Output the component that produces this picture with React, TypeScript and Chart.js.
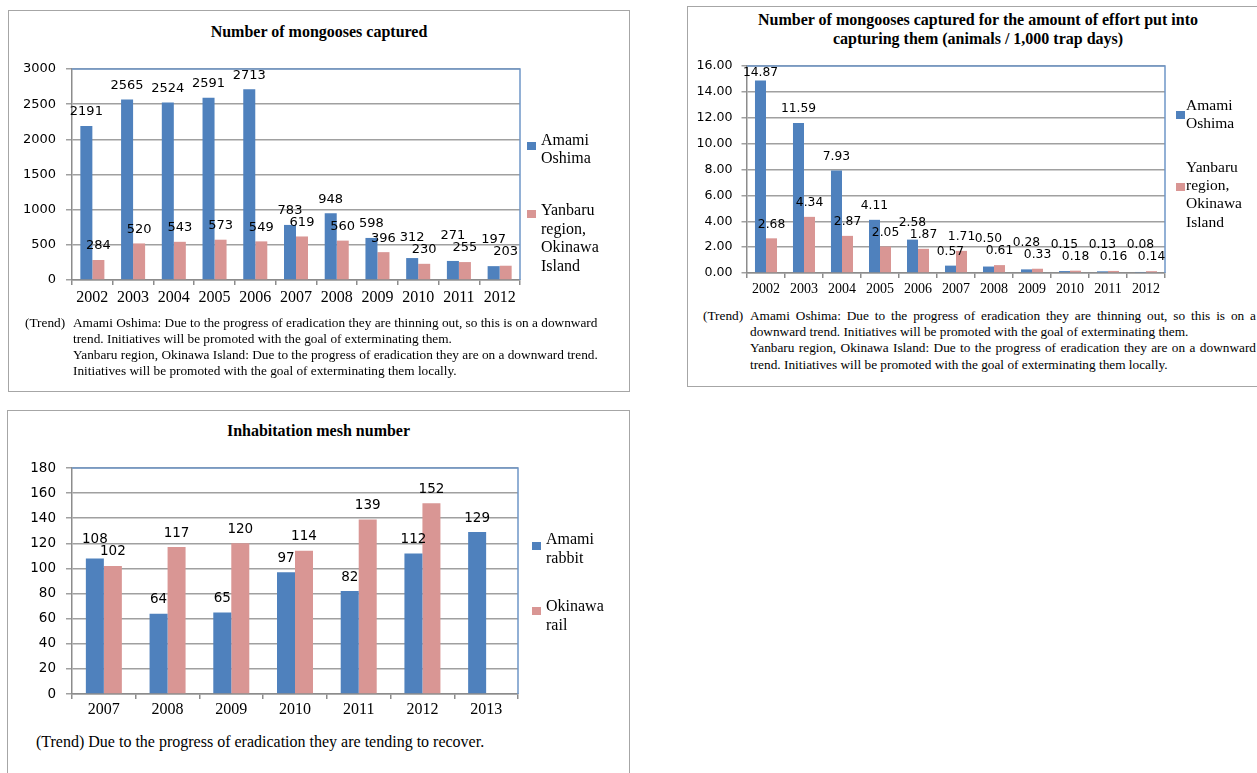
import React, { useEffect, useRef } from "react";
import { Chart, registerables } from "chart.js";

Chart.register(...registerables);

// ---------- data ----------
const yearsCaptured = ["2002", "2003", "2004", "2005", "2006", "2007", "2008", "2009", "2010", "2011", "2012"];
const amamiCaptured = [2191, 2565, 2524, 2591, 2713, 783, 948, 598, 312, 271, 197];
const yanbaruCaptured = [284, 520, 543, 573, 549, 619, 560, 396, 230, 255, 203];

const yearsEffort = ["2002", "2003", "2004", "2005", "2006", "2007", "2008", "2009", "2010", "2011", "2012"];
const amamiEffort = [14.87, 11.59, 7.93, 4.11, 2.58, 0.57, 0.5, 0.28, 0.15, 0.13, 0.08];
const yanbaruEffort = [2.68, 4.34, 2.87, 2.05, 1.87, 1.71, 0.61, 0.33, 0.18, 0.16, 0.14];

const yearsMesh = ["2007", "2008", "2009", "2010", "2011", "2012", "2013"];
const amamiRabbit = [108, 64, 65, 97, 82, 112, 129];
const okinawaRail: (number | null)[] = [102, 117, 120, 114, 139, 152, null];

const BLUE = "#4f81bd";
const PINK = "#d99694";
const GRID = "#a0a0a0";
const AXIS = "#8c8c8c";
const SERIF = "'Liberation Serif', 'Times New Roman', serif";
const SANS = "'DejaVu Sans', sans-serif";

// ---------- plugins ----------
const plotBorderPlugin = {
  id: "plotBorder",
  beforeDatasetsDraw(chart: any) {
    const { left, top, right, bottom } = chart.chartArea;
    const ctx = chart.ctx;
    ctx.save();
    ctx.strokeStyle = "#6f96c8";
    ctx.lineWidth = 1.5;
    ctx.beginPath();
    ctx.moveTo(left, top);
    ctx.lineTo(right, top);
    ctx.lineTo(right, bottom);
    ctx.stroke();
    ctx.restore();
  },
};

const valueLabelPlugin = {
  id: "valueLabels",
  afterDatasetsDraw(chart: any, _args: any, opts: any) {
    const ctx = chart.ctx;
    const area = chart.chartArea;
    ctx.save();
    ctx.font = opts.font;
    ctx.fillStyle = "#000";
    ctx.textAlign = "center";
    ctx.textBaseline = "middle";
    const n = chart.data.labels.length;
    for (let j = 0; j < n; j++) {
      const items: any[] = [];
      chart.data.datasets.forEach((ds: any, di: number) => {
        const v = ds.data[j];
        if (v == null) return;
        const el = chart.getDatasetMeta(di).data[j];
        const text = opts.decimals ? Number(v).toFixed(opts.decimals) : String(v);
        const w = ctx.measureText(text).width;
        const y = Math.max(el.y - opts.offset, area.top + 7);
        items.push({ x: el.x, y, text, w });
      });
      if (items.length === 2) {
        const [a, b] = items;
        if (Math.abs(a.x - b.x) < (a.w + b.w) / 2 && Math.abs(a.y - b.y) < opts.gap) {
          a.y = Math.min(a.y, b.y - opts.gap);
        }
      }
      items.forEach((it) => ctx.fillText(it.text, it.x, it.y));
    }
    ctx.restore();
  },
};

// ---------- chart component ----------
type BarChartProps = {
  left: number;
  top: number;
  width: number;
  height: number;
  pad: { top: number; right: number };
  yWidth: number;
  xHeight: number;
  labels: string[];
  series: { label: string; data: (number | null)[]; color: string }[];
  yMax: number;
  yStep: number;
  yDecimals: number;
  yFont: number;
  yTickLen: number;
  yPad: number;
  xFont: number;
  xPad: number;
  catPct: number;
  labelFont: number;
  labelDecimals: number;
};

function BarChart(p: BarChartProps) {
  const ref = useRef<HTMLCanvasElement | null>(null);
  useEffect(() => {
    if (!ref.current) return;
    const chart = new Chart(ref.current, {
      type: "bar",
      data: {
        labels: p.labels,
        datasets: p.series.map((s) => ({
          label: s.label,
          data: s.data,
          backgroundColor: s.color,
          borderWidth: 0,
          categoryPercentage: p.catPct,
          barPercentage: 1,
        })),
      },
      options: {
        animation: false,
        responsive: false,
        maintainAspectRatio: false,
        devicePixelRatio: 1,
        layout: { padding: { left: 0, top: p.pad.top, right: p.pad.right, bottom: 0 } },
        plugins: {
          legend: { display: false },
          title: { display: false },
          tooltip: { enabled: false },
          valueLabels: {
            font: `${p.labelFont}px ${SANS}`,
            offset: 14,
            gap: 12,
            decimals: p.labelDecimals,
          },
        } as any,
        scales: {
          x: {
            ticks: {
              font: { family: SERIF, size: p.xFont },
              color: "#000",
              padding: p.xPad,
              maxRotation: 0,
              autoSkip: false,
            },
            grid: {
              drawOnChartArea: false,
              drawTicks: true,
              tickLength: 5,
              color: AXIS,
              lineWidth: 1.5,
              offset: true,
            },
            border: { color: AXIS, width: 1.5 },
            afterFit: (s: any) => {
              s.height = p.xHeight;
            },
          },
          y: {
            min: 0,
            max: p.yMax,
            ticks: {
              stepSize: p.yStep,
              font: { family: SANS, size: p.yFont },
              color: "#000",
              padding: p.yPad,
              callback: (v: any) => Number(v).toFixed(p.yDecimals),
            },
            grid: {
              color: GRID,
              lineWidth: 1.5,
              tickLength: p.yTickLen,
              drawTicks: true,
            },
            border: { color: AXIS, width: 1.5 },
            afterFit: (s: any) => {
              s.width = p.yWidth;
            },
          },
        },
      },
      plugins: [plotBorderPlugin, valueLabelPlugin],
    } as any);
    return () => chart.destroy();
  }, []);
  return (
    <canvas
      ref={ref}
      width={p.width}
      height={p.height}
      style={{ position: "absolute", left: p.left, top: p.top, width: p.width, height: p.height }}
    />
  );
}

// ---------- helpers ----------
function Box({ left, top, width, height }: { left: number; top: number; width: number; height: number }) {
  return (
    <div
      style={{
        position: "absolute",
        left,
        top,
        width,
        height,
        border: "1.5px solid #a6a6a6",
        boxSizing: "border-box",
      }}
    />
  );
}

function Title({ left, top, width, lines }: { left: number; top: number; width: number; lines: string[] }) {
  return (
    <div
      style={{
        position: "absolute",
        left,
        top,
        width,
        textAlign: "center",
        fontFamily: SERIF,
        fontWeight: "bold",
        fontSize: 16,
        lineHeight: "19px",
        whiteSpace: "nowrap",
      }}
    >
      {lines.map((l, i) => (
        <div key={i}>{l}</div>
      ))}
    </div>
  );
}

function LegendEntry({
  sqLeft,
  sqTop,
  textLeft,
  textTop,
  color,
  lines,
  lineHeight,
  size,
}: {
  sqLeft: number;
  sqTop: number;
  textLeft: number;
  textTop: number;
  color: string;
  lines: string[];
  lineHeight: number;
  size: number;
}) {
  return (
    <>
      <div style={{ position: "absolute", left: sqLeft, top: sqTop, width: 9, height: 8, background: color }} />
      <div
        style={{
          position: "absolute",
          left: textLeft,
          top: textTop,
          fontFamily: SERIF,
          fontSize: size,
          lineHeight: `${lineHeight}px`,
          whiteSpace: "nowrap",
        }}
      >
        {lines.map((l, i) => (
          <div key={i}>{l}</div>
        ))}
      </div>
    </>
  );
}

function Trend({
  left,
  colLeft,
  colWidth,
  top,
  size,
  lineHeight,
  lines,
  justify,
}: {
  left: number;
  colLeft: number;
  colWidth?: number;
  top: number;
  size: number;
  lineHeight: number;
  lines: string[];
  justify?: boolean[];
}) {
  return (
    <div style={{ position: "absolute", left: 0, top: 0, fontFamily: SERIF, fontSize: size, lineHeight: `${lineHeight}px` }}>
      <div style={{ position: "absolute", left, top, whiteSpace: "nowrap" }}>(Trend)</div>
      <div style={{ position: "absolute", left: colLeft, top, width: colWidth }}>
        {lines.map((l, i) => (
          <div
            key={i}
            style={{
              whiteSpace: justify && justify[i] ? "normal" : "nowrap",
              textAlign: justify && justify[i] ? "justify" : "left",
              textAlignLast: justify && justify[i] ? "justify" : "auto",
            } as any}
          >
            {l}
          </div>
        ))}
      </div>
    </div>
  );
}

export default function App() {
  useEffect(() => {
    document.body.style.margin = "0";
  }, []);
  return (
    <div
      style={{
        position: "absolute",
        left: 0,
        top: 0,
        width: 1257,
        height: 773,
        overflow: "hidden",
        background: "#fff",
      }}
    >
      {/* Panel 1 */}
      <Box left={8} top={10} width={622} height={382} />
      <Title left={8} top={22} width={622} lines={["Number of mongooses captured"]} />
      <BarChart
        left={0}
        top={41}
        width={630}
        height={275}
        pad={{ top: 28, right: 110 }}
        yWidth={72}
        xHeight={36}
        labels={yearsCaptured}
        series={[
          { label: "Amami Oshima", data: amamiCaptured, color: BLUE },
          { label: "Yanbaru region, Okinawa Island", data: yanbaruCaptured, color: PINK },
        ]}
        yMax={3000}
        yStep={500}
        yDecimals={0}
        yFont={13}
        yTickLen={6}
        yPad={10}
        xFont={16}
        xPad={3}
        catPct={0.59}
        labelFont={13}
        labelDecimals={0}
      />
      <LegendEntry sqLeft={527} sqTop={142} textLeft={541} textTop={131} color={BLUE} lines={["Amami", "Oshima"]} lineHeight={18} size={16} />
      <LegendEntry
        sqLeft={527}
        sqTop={210}
        textLeft={541}
        textTop={201}
        color={PINK}
        lines={["Yanbaru", "region,", "Okinawa", "Island"]}
        lineHeight={18.5}
        size={16}
      />
      <Trend
        left={25}
        colLeft={73}
        top={315}
        size={13.3}
        lineHeight={16}
        lines={[
          "Amami Oshima: Due to the progress of eradication they are thinning out, so this is on a downward",
          "trend. Initiatives will be promoted with the goal of exterminating them.",
          "Yanbaru region, Okinawa Island: Due to the progress of eradication they are on a downward trend.",
          "Initiatives will be promoted with the goal of exterminating them locally.",
        ]}
      />

      {/* Panel 2 */}
      <Box left={687} top={6} width={600} height={381} />
      <Title
        left={687}
        top={10}
        width={582}
        lines={["Number of mongooses captured for the amount of effort put into", "capturing them (animals / 1,000 trap days)"]}
      />
      <BarChart
        left={680}
        top={42}
        width={577}
        height={265}
        pad={{ top: 24, right: 92 }}
        yWidth={67}
        xHeight={34}
        labels={yearsEffort}
        series={[
          { label: "Amami Oshima", data: amamiEffort, color: BLUE },
          { label: "Yanbaru region, Okinawa Island", data: yanbaruEffort, color: PINK },
        ]}
        yMax={16}
        yStep={2}
        yDecimals={2}
        yFont={12.6}
        yTickLen={5.5}
        yPad={9}
        xFont={14}
        xPad={3}
        catPct={0.58}
        labelFont={12.3}
        labelDecimals={2}
      />
      <LegendEntry sqLeft={1176} sqTop={111} textLeft={1186} textTop={96} color={BLUE} lines={["Amami", "Oshima"]} lineHeight={18} size={15.5} />
      <LegendEntry
        sqLeft={1176}
        sqTop={183}
        textLeft={1186}
        textTop={158}
        color={PINK}
        lines={["Yanbaru", "region,", "Okinawa", "Island"]}
        lineHeight={18.2}
        size={15.5}
      />
      <Trend
        left={703}
        colLeft={750}
        colWidth={506}
        top={308}
        size={13.3}
        lineHeight={16.2}
        justify={[true, false, true, false]}
        lines={[
          "Amami Oshima: Due to the progress of eradication they are thinning out, so this is on a",
          "downward trend. Initiatives will be promoted with the goal of exterminating them.",
          "Yanbaru region, Okinawa Island: Due to the progress of eradication they are on a downward",
          "trend. Initiatives will be promoted with the goal of exterminating them locally.",
        ]}
      />

      {/* Panel 3 */}
      <Box left={7} top={410} width={623} height={420} />
      <Title left={7} top={421} width={623} lines={["Inhabitation mesh number"]} />
      <BarChart
        left={0}
        top={441}
        width={630}
        height={290}
        pad={{ top: 27, right: 112 }}
        yWidth={72}
        xHeight={37}
        labels={yearsMesh}
        series={[
          { label: "Amami rabbit", data: amamiRabbit, color: BLUE },
          { label: "Okinawa rail", data: okinawaRail, color: PINK },
        ]}
        yMax={180}
        yStep={20}
        yDecimals={0}
        yFont={13.5}
        yTickLen={6}
        yPad={10}
        xFont={16}
        xPad={1}
        catPct={0.565}
        labelFont={13.5}
        labelDecimals={0}
      />
      <LegendEntry sqLeft={532} sqTop={542} textLeft={546} textTop={529} color={BLUE} lines={["Amami", "rabbit"]} lineHeight={19} size={16} />
      <LegendEntry sqLeft={532} sqTop={607} textLeft={546} textTop={596} color={PINK} lines={["Okinawa", "rail"]} lineHeight={19} size={16} />
      <div
        style={{
          position: "absolute",
          left: 36,
          top: 732,
          fontFamily: SERIF,
          fontSize: 16,
          lineHeight: "19px",
          whiteSpace: "nowrap",
        }}
      >
        (Trend) Due to the progress of eradication they are tending to recover.
      </div>
    </div>
  );
}
